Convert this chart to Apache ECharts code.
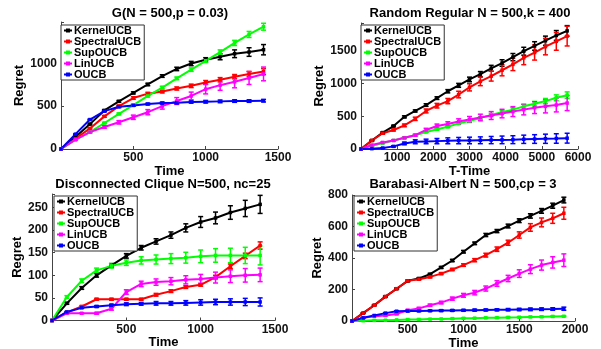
<!DOCTYPE html>
<html>
<head>
<meta charset="utf-8">
<script src="https://cdn.jsdelivr.net/npm/echarts@6/dist/echarts.min.js"></script>
<style>
  html, body { margin: 0; padding: 0; background: #fff; }
  #chart { width: 601px; height: 349px; }
</style>
</head>
<body>
<div id="chart"></div>
<script>
// series names, shared by all four panels
const algoNames = ['KernelUCB', 'SpectralUCB', 'SupOUCB', 'LinUCB', 'OUCB']
const algoColors = ['#000000', '#ff0000', '#00ff00', '#ff00ff', '#0000ff']

// panel 1: G(N = 500, p = 0.03)
const time1 = [0, 100, 200, 300, 400, 500, 600, 700, 800, 900, 1000, 1100, 1200, 1300, 1400]
const kernel1 = [0, 140, 290, 449, 555, 654, 752, 850, 933, 996, 1039, 1075, 1110, 1130, 1157]
const kernel1Err = [0, 5, 8, 10, 10, 12, 14, 15, 20, 25, 25, 35, 45, 50, 60]
const spectral1 = [0, 120, 240, 380, 500, 594, 645, 669, 705, 736, 776, 807, 843, 874, 902]
const spectral1Err = [0, 5, 8, 10, 12, 15, 15, 15, 18, 20, 22, 25, 25, 30, 35]
const supo1 = [0, 106, 197, 303, 409, 512, 618, 716, 823, 925, 1028, 1130, 1236, 1335, 1425]
const supo1Err = [0, 3, 5, 8, 10, 10, 12, 15, 15, 20, 20, 25, 30, 35, 40]
const lin1 = [0, 110, 197, 256, 311, 370, 429, 500, 559, 618, 697, 744, 783, 827, 875]
const lin1Err = [0, 5, 10, 15, 20, 25, 30, 35, 40, 45, 55, 60, 70, 75, 80]
const oucb1 = [0, 173, 343, 441, 492, 508, 524, 535, 539, 547, 551, 555, 559, 559, 563]
const oucb1Err = [0, 3, 5, 8, 10, 10, 10, 12, 12, 12, 15, 15, 15, 15, 15]

// panel 2: Random Regular N = 500, k = 400
const time2 = [0, 300, 600, 900, 1200, 1500, 1800, 2100, 2400, 2700, 3000, 3300, 3600, 3900, 4200, 4500, 4800, 5100, 5400, 5700]
const kernel2 = [0, 130, 250, 350, 490, 580, 670, 775, 880, 970, 1060, 1140, 1230, 1310, 1400, 1490, 1570, 1650, 1730, 1800]
const kernel2Err = [0, 5, 10, 12, 15, 15, 20, 20, 25, 30, 35, 40, 45, 50, 55, 60, 65, 70, 75, 80]
const spectral2 = [0, 130, 240, 290, 360, 460, 580, 660, 730, 830, 940, 1030, 1110, 1200, 1290, 1390, 1470, 1560, 1640, 1720]
const spectral2Err = [0, 10, 15, 15, 20, 25, 30, 35, 40, 50, 55, 65, 75, 85, 95, 105, 115, 125, 135, 150]
const supo2 = [0, 50, 90, 130, 170, 210, 260, 300, 340, 390, 430, 470, 520, 560, 600, 650, 690, 730, 780, 820]
const supo2Err = [0, 3, 5, 5, 8, 10, 10, 12, 15, 15, 18, 20, 22, 25, 28, 30, 35, 40, 45, 50]
const lin2 = [0, 60, 100, 130, 170, 210, 290, 350, 380, 420, 450, 480, 510, 540, 570, 600, 630, 650, 670, 700]
const lin2Err = [0, 5, 8, 10, 12, 15, 25, 30, 35, 40, 45, 50, 60, 65, 75, 80, 90, 100, 105, 115]
const oucb2 = [0, 5, 15, 40, 85, 110, 115, 120, 125, 128, 130, 133, 136, 139, 142, 148, 152, 156, 160, 165]
const oucb2Err = [0, 3, 5, 10, 20, 30, 35, 40, 45, 48, 50, 52, 55, 58, 60, 63, 66, 70, 72, 75]

// panel 3: Disconnected Clique N=500, nc=25
const time3 = [0, 100, 200, 300, 400, 500, 600, 700, 800, 900, 1000, 1100, 1200, 1300, 1400]
const kernel3 = [0, 38, 72, 100, 122, 143, 161, 175, 189, 205, 218, 227, 239, 248, 257]
const kernel3Err = [0, 2, 3, 4, 4, 5, 5, 6, 7, 9, 12, 13, 15, 18, 20]
const spectral3 = [0, 18, 31, 47, 47, 47, 47, 57, 65, 74, 79, 96, 120, 143, 166]
const spectral3Err = [0, 1, 2, 2, 2, 2, 2, 3, 3, 3, 3, 4, 5, 6, 8]
const supo3 = [0, 52, 88, 111, 121, 128, 133, 135, 137, 139, 142, 144, 144, 144, 144]
const supo3Err = [0, 3, 4, 5, 5, 6, 8, 10, 11, 12, 14, 15, 16, 18, 21]
const lin3 = [0, 16, 16, 16, 26, 63, 81, 85, 87, 90, 92, 95, 98, 100, 101]
const lin3Err = [0, 1, 1, 2, 3, 5, 6, 7, 8, 9, 10, 12, 14, 15, 15]
const oucb3 = [0, 19, 28, 31, 34, 36, 37, 38, 38, 39, 40, 41, 41, 41, 41]
const oucb3Err = [0, 1, 1, 2, 2, 3, 3, 4, 4, 5, 6, 6, 7, 8, 9]

// panel 4: Barabasi-Albert N = 500, cp = 3
const time4 = [0, 100, 200, 300, 400, 500, 600, 700, 800, 900, 1000, 1100, 1200, 1300, 1400, 1500, 1600, 1700, 1800, 1900]
const kernel4 = [0, 50, 100, 155, 205, 255, 270, 297, 340, 384, 440, 493, 546, 571, 603, 637, 667, 699, 732, 768]
const kernel4Err = [0, 2, 3, 3, 4, 5, 5, 5, 6, 7, 8, 8, 10, 10, 12, 12, 14, 15, 16, 18]
const spectral4 = [0, 50, 100, 155, 205, 255, 265, 280, 301, 327, 355, 386, 418, 456, 497, 546, 594, 626, 652, 684]
const spectral4Err = [0, 2, 3, 3, 4, 5, 5, 6, 6, 7, 8, 10, 12, 14, 16, 20, 24, 28, 32, 38]
const supo4 = [0, 2, 4, 5, 7, 9, 10, 12, 13, 15, 17, 18, 20, 21, 23, 24, 26, 27, 29, 30]
const supo4Err = [0, 1, 1, 1, 1, 1, 1, 1, 2, 2, 2, 2, 2, 2, 2, 3, 3, 3, 3, 3]
const lin4 = [0, 20, 30, 35, 45, 68, 80, 100, 117, 142, 163, 180, 206, 238, 270, 301, 329, 355, 372, 386]
const lin4Err = [0, 2, 3, 3, 4, 5, 6, 7, 8, 10, 12, 14, 16, 18, 20, 24, 28, 32, 36, 40]
const oucb4 = [0, 20, 35, 50, 62, 63, 64, 65, 66, 67, 68, 69, 70, 71, 72, 73, 74, 75, 76, 78]
const oucb4Err = [0, 1, 2, 3, 3, 4, 4, 4, 5, 5, 5, 6, 6, 6, 7, 7, 8, 8, 8, 10]

const panels = [
  {
    title: 'G(N = 500,p = 0.03)', xName: 'Time', time: time1,
    vals: [kernel1, spectral1, supo1, lin1, oucb1],
    errs: [kernel1Err, spectral1Err, supo1Err, lin1Err, oucb1Err],
    grid: { left: 61, top: 22, width: 217, height: 127 },
    xMax: 1500, xStep: 500, yMax: 1480, yStep: 500, yGap: 33,
    legend: { left: 61, top: 25 }, titleX: 170, titleY: 7,
  },
  {
    title: 'Random Regular N = 500,k = 400', xName: 'T-Time', time: time2,
    vals: [kernel2, spectral2, supo2, lin2, oucb2],
    errs: [kernel2Err, spectral2Err, supo2Err, lin2Err, oucb2Err],
    grid: { left: 361, top: 23, width: 217, height: 126 },
    xMax: 6000, xStep: 1000, yMax: 1920, yStep: 500, yGap: 33,
    legend: { left: 361, top: 25 }, titleX: 470, titleY: 7,
  },
  {
    title: 'Disconnected Clique N=500, nc=25', xName: 'Time', time: time3,
    vals: [kernel3, spectral3, supo3, lin3, oucb3],
    errs: [kernel3Err, spectral3Err, supo3Err, lin3Err, oucb3Err],
    grid: { left: 52, top: 194, width: 223, height: 126.5 },
    xMax: 1500, xStep: 500, yMax: 280, yStep: 50, yGap: 25,
    legend: { left: 54, top: 196 }, titleX: 163, titleY: 178,
  },
  {
    title: 'Barabasi-Albert N = 500,cp = 3', xName: 'Time', time: time4,
    vals: [kernel4, spectral4, supo4, lin4, oucb4],
    errs: [kernel4Err, spectral4Err, supo4Err, lin4Err, oucb4Err],
    grid: { left: 352, top: 195, width: 223, height: 126 },
    xMax: 2000, xStep: 500, yMax: 800, yStep: 200, yGap: 25,
    legend: { left: 354, top: 196 }, titleX: 463, titleY: 178,
  },
]

const font = 'Liberation Sans, Arial, Helvetica, sans-serif'
const axisColor = '#444'

function errorBarRender(color) {
  return (params, api) => {
    const x = api.value(0)
    const lo = api.coord([x, api.value(1)])
    const hi = api.coord([x, api.value(2)])
    const w = 2.5
    const style = { stroke: color, lineWidth: 1.5 }
    return {
      type: 'group',
      children: [
        { type: 'line', shape: { x1: lo[0], y1: lo[1], x2: hi[0], y2: hi[1] }, style },
        { type: 'line', shape: { x1: lo[0] - w, y1: lo[1], x2: lo[0] + w, y2: lo[1] }, style },
        { type: 'line', shape: { x1: hi[0] - w, y1: hi[1], x2: hi[0] + w, y2: hi[1] }, style },
      ],
    }
  }
}

const grids = []
const xAxes = []
const yAxes = []
const titles = []
const legends = []
const series = []

panels.forEach((p, pi) => {
  grids.push({ ...p.grid, containLabel: false, outerBoundsMode: 'none' })
  titles.push({
    text: p.title,
    left: p.titleX,
    top: p.titleY,
    textAlign: 'center',
    padding: 0,
    textStyle: { fontFamily: font, fontSize: 13, fontWeight: 'bold', color: '#000' },
  })
  xAxes.push({
    type: 'value',
    gridIndex: pi,
    min: 0,
    max: p.xMax,
    interval: p.xStep,
    name: p.xName,
    nameLocation: 'middle',
    nameGap: 13,
    nameTextStyle: { fontFamily: font, fontSize: 13, fontWeight: 'bold', color: '#000' },
    axisLine: { lineStyle: { color: axisColor, width: 1 } },
    axisTick: { inside: true, length: 3, lineStyle: { color: axisColor } },
    axisLabel: {
      showMinLabel: false, margin: 3,
      fontFamily: font, fontSize: 12, fontWeight: 'bold', color: '#111',
      formatter: (v) => String(v),
    },
    splitLine: { show: false },
  })
  yAxes.push({
    type: 'value',
    gridIndex: pi,
    min: 0,
    max: p.yMax,
    interval: p.yStep,
    name: 'Regret',
    nameLocation: 'middle',
    nameGap: p.yGap,
    nameTextStyle: { fontFamily: font, fontSize: 13, fontWeight: 'bold', color: '#000' },
    axisLine: { show: true, lineStyle: { color: axisColor, width: 1 } },
    axisTick: { show: true, inside: true, length: 3, lineStyle: { color: axisColor } },
    axisLabel: {
      margin: 4,
      fontFamily: font, fontSize: 12, fontWeight: 'bold', color: '#111',
      formatter: (v) => (v % p.yStep === 0 ? String(v) : ''),
    },
    splitLine: { show: false },
  })
  legends.push({
    orient: 'vertical',
    left: p.legend.left,
    top: p.legend.top,
    data: algoNames,
    itemWidth: 8,
    itemHeight: 5,
    itemGap: 0,
    padding: [0, 3, 0, 2],
    backgroundColor: '#fff',
    borderColor: '#333',
    borderWidth: 1,
    borderRadius: 0,
    selectedMode: false,
    textStyle: { fontFamily: font, fontSize: 11, fontWeight: 'bold', color: '#000', lineHeight: 11, padding: [0, 0, 0, -3] },
    z: 10,
  })
  algoNames.forEach((name, si) => {
    const color = algoColors[si]
    const v = p.vals[si]
    const e = p.errs[si]
    series.push({
      type: 'line',
      name,
      xAxisIndex: pi,
      yAxisIndex: pi,
      data: p.time.map((t, i) => [t, v[i]]),
      color,
      lineStyle: { width: 2, color },
      symbol: 'rect',
      symbolSize: 3.5,
      itemStyle: { color },
      animation: false,
    })
    series.push({
      type: 'custom',
      name: name + ' err',
      xAxisIndex: pi,
      yAxisIndex: pi,
      data: p.time.map((t, i) => [t, v[i] - e[i], v[i] + e[i]]).filter((d, i) => e[i] > 0),
      encode: { x: 0, y: [1, 2] },
      renderItem: errorBarRender(color),
      animation: false,
    })
  })
})

const chart = echarts.init(document.getElementById('chart'), null, { renderer: 'canvas' })
chart.setOption({
  backgroundColor: '#fff',
  animation: false,
  title: titles,
  grid: grids,
  xAxis: xAxes,
  yAxis: yAxes,
  legend: legends,
  series,
})
</script>
</body>
</html>
